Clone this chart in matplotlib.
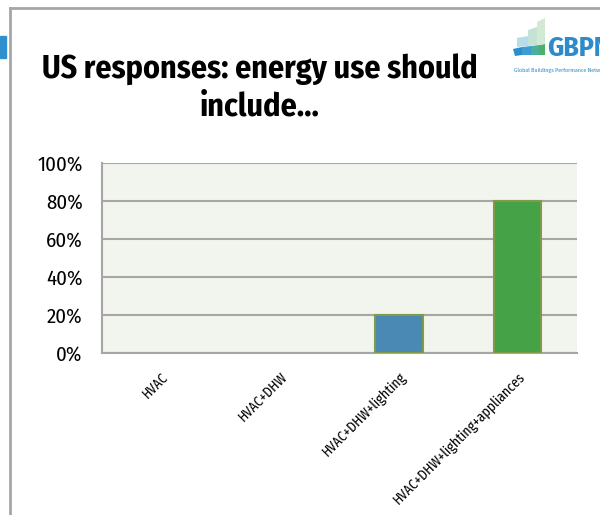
import matplotlib
matplotlib.use("Agg")
import matplotlib.pyplot as plt
from matplotlib.patches import Polygon, Rectangle
from matplotlib.ticker import PercentFormatter

# survey shares per option
categories = ["HVAC", "HVAC+DHW", "HVAC+DHW+lighting", "HVAC+DHW+lighting+appliances"]
shares = [0, 0, 20, 80]
bar_colors = ["#4a89b3", "#4a89b3", "#4a89b3", "#45a247"]
yticks = [0, 20, 40, 60, 80, 100]

plt.rcParams["font.family"] = ["Fira Sans Condensed", "DejaVu Sans"]

fig = plt.figure(figsize=(6, 5.15), dpi=100)
fig.patch.set_facecolor("white")

# slide frame
fig.add_artist(plt.Line2D([10/600, 1], [1 - 8/515, 1 - 8/515], color="#a6a6a6", lw=2))
fig.add_artist(plt.Line2D([10/600, 10/600], [0, 1 - 8/515], color="#a6a6a6", lw=2))

# left logo fragment
fig.add_artist(Rectangle((0, 1 - 58/515), 6/600, 22/515, color="#2f8fce",
                         transform=fig.transFigure))

# GBPN logo
def fpoly(pts, c, a=1.0):
    fig.add_artist(Polygon([(x/600, 1 - y/515) for x, y in pts], closed=True,
                           color=c, alpha=a, transform=fig.transFigure, lw=0))

fpoly([(513, 49), (522, 47), (522, 55), (515, 56)], "#2c8ed0")
fpoly([(522, 47), (531, 46), (531, 55), (522, 55)], "#3a9fd0")
fpoly([(531, 46), (539, 45), (539, 55), (531, 55)], "#4fae9a")
fpoly([(539, 45), (545, 44), (545, 55), (539, 55)], "#4caf6a")
fpoly([(517, 38), (528, 36), (528, 46), (517, 47)], "#b9dde8")
fpoly([(528, 30), (537, 27), (537, 45), (528, 46)], "#c4e2d5")
fpoly([(537, 22), (545, 18), (545, 44), (537, 45)], "#d2e9d6")
fig.text(547/600, 1 - 56/515, "GBPN", color="#2e8bc9", fontsize=20,
         fontweight="bold", ha="left", va="baseline")
fig.text(514/600, 1 - 72/515, "Global Buildings Performance Network",
         color="#2e8bc9", fontsize=4.3, ha="left", va="baseline")

# title
fig.text(260/600, 1 - 78/515, "US responses: energy use should", fontsize=23,
         fontweight="bold", ha="center", va="baseline")
fig.text(260/600, 1 - 115/515, "include…", fontsize=23,
         fontweight="bold", ha="center", va="baseline")

ax = fig.add_axes([102/600, 1 - 353/515, 475/600, 190/515])
ax.set_facecolor("#f2f4ee")
x = range(len(categories))
ax.bar(x, shares, width=0.4, color=bar_colors, edgecolor="#7f9a48",
       linewidth=[1.5 if v > 0 else 0 for v in shares], zorder=3)

ax.set_xlim(-0.5, 3.5)
ax.set_ylim(0, 100)
ax.set_yticks(yticks)
ax.yaxis.set_major_formatter(PercentFormatter(decimals=0))
ax.grid(axis="y", color="#a6a6a6", lw=1.5, zorder=1)
ax.set_axisbelow(True)

for s in ["top", "right"]:
    ax.spines[s].set_visible(False)
for s in ["left", "bottom"]:
    ax.spines[s].set_color("#a6a6a6")
    ax.spines[s].set_linewidth(1.5)

ax.tick_params(axis="y", length=0, labelsize=15, pad=14)
ax.tick_params(axis="x", length=0, pad=12)
ax.set_xticks(list(x))
ax.set_xticklabels(categories, rotation=45, ha="right", rotation_mode="anchor",
                   fontsize=10)

fig.savefig("out.png", dpi=100)
